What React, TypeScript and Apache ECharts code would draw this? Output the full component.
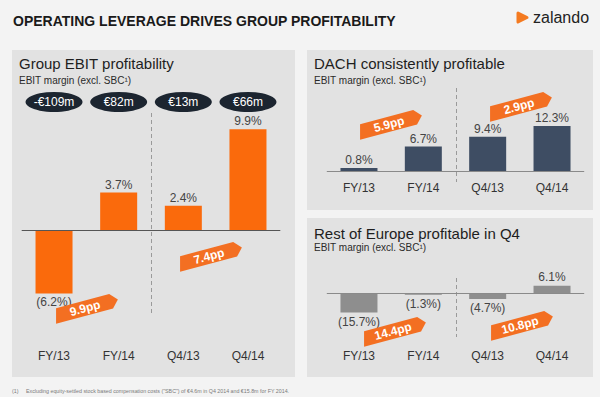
import React, { useEffect, useRef } from 'react';
import * as echarts from 'echarts';

const categories = ['FY/13', 'FY/14', 'Q4/13', 'Q4/14'];
const groupMargin = [-6.2, 3.7, 2.4, 9.9];
const groupEbit = ['-€109m', '€82m', '€13m', '€66m'];
const dachMargin = [0.8, 6.7, 9.4, 12.3];
const roeMargin = [-15.7, -1.3, -4.7, 6.1];
const groupDeltas = ['9.9pp', '7.4pp'];
const dachDeltas = ['5.9pp', '2.9pp'];
const roeDeltas = ['14.4pp', '10.8pp'];

const ORANGE = '#fa6a0c';
const NAVY = '#3e4d63';
const GREY = '#8e8e8e';
const FONT = 'Liberation Sans, Arial, sans-serif';

const grids = [
  { left: 21.7, top: 113, width: 258.6, height: 200 },
  { left: 326.8, top: 88, width: 257.4, height: 94 },
  { left: 326.8, top: 278, width: 257.4, height: 59 },
  { left: 21.7, top: 92, width: 258.6, height: 20 },
];

const fmt = (v: number) => (v < 0 ? `(${Math.abs(v).toFixed(1)}%)` : `${v.toFixed(1)}%`);

const barData = (vals: number[]) =>
  vals.map((v) => ({ value: v, label: { position: v < 0 ? 'bottom' : 'top' } }));

const xAx = (gridIndex: number, margin: number) => ({
  type: 'category',
  gridIndex,
  data: categories,
  axisLine: { show: false },
  axisTick: { show: false },
  axisLabel: { color: '#333', fontSize: 12, fontFamily: FONT, margin },
  splitLine: { show: false },
});

const yAx = (gridIndex: number, min: number, max: number) => ({
  type: 'value',
  gridIndex,
  min,
  max,
  show: false,
  splitLine: { show: false },
});

const barSeries = (idx: number, vals: number[], color: string, zeroColor: string, dist: number) => ({
  type: 'bar',
  xAxisIndex: idx,
  yAxisIndex: idx,
  barWidth: 37,
  data: barData(vals),
  itemStyle: { color },
  label: {
    show: true,
    color: '#444',
    fontSize: 12,
    fontFamily: FONT,
    distance: dist,
    formatter: (p: any) => fmt(p.value),
  },
  markLine: {
    silent: true,
    symbol: 'none',
    label: { show: false },
    lineStyle: { color: zeroColor, width: 1, type: 'solid' },
    data: [{ yAxis: 0 }],
  },
});

// dashed divider between the yearly and quarterly halves of a grid
const divider = (g: { left: number; top: number; width: number; height: number }) => {
  const x = Math.round(g.left + g.width / 2) + 0.5;
  return {
    type: 'line',
    z: 1,
    shape: { x1: x, y1: g.top, x2: x, y2: g.top + g.height },
    style: { stroke: '#9a9a9a', lineWidth: 1, lineDash: [4, 3] },
  };
};

const tag = (x: number, y: number, text: string) => ({
  type: 'group',
  x,
  y,
  rotation: 0.26,
  z: 100,
  children: [
    {
      type: 'polygon',
      shape: {
        points: [
          [-29, -7.5],
          [26, -7.5],
          [33, 0],
          [26, 7.5],
          [-33, 7.5],
        ],
      },
      style: { fill: '#f36f22' },
      z: 100,
    },
    {
      type: 'text',
      x: -1,
      y: 0,
      z: 101,
      style: {
        text,
        fill: '#fff',
        font: `bold 12px ${FONT}`,
        textAlign: 'center',
        textVerticalAlign: 'middle',
        align: 'center',
        verticalAlign: 'middle',
      },
    },
  ],
});

const txt = (x: number, y: number, text: string, size: number, color: string, weight = 'normal') => ({
  type: 'text',
  x,
  y,
  z: 5,
  style: {
    text,
    fill: color,
    font: `${weight} ${size}px ${FONT}`,
    textAlign: 'left',
    textVerticalAlign: 'middle',
    align: 'left',
    verticalAlign: 'middle',
  },
});

const panel = (x: number, y: number, w: number, h: number) => ({
  type: 'rect',
  z: -10,
  shape: { x, y, width: w, height: h },
  style: { fill: '#e2e2e2' },
});

export default function App() {
  const ref = useRef<HTMLDivElement>(null);
  useEffect(() => {
    if (!ref.current) return;
    const chart = echarts.init(ref.current, undefined, { renderer: 'svg' });
    chart.setOption({
      animation: false,
      backgroundColor: '#f3f3f3',
      grid: grids.map((g) => ({ ...g, outerBoundsMode: 'none' })),
      xAxis: [
        xAx(0, 37),
        xAx(1, 0),
        xAx(2, 13),
        { type: 'category', gridIndex: 3, data: categories, show: false },
      ],
      yAxis: [
        yAx(0, -8.1, 11.5),
        yAx(1, -3.0, 22.7),
        yAx(2, -35.5, 12.4),
        yAx(3, -1, 1),
      ],
      series: [
        barSeries(0, groupMargin, ORANGE, '#555', 2),
        barSeries(1, dachMargin, NAVY, '#8a8a8a', 2),
        barSeries(2, roeMargin, GREY, '#8a8a8a', 3),
        {
          type: 'scatter',
          xAxisIndex: 3,
          yAxisIndex: 3,
          symbol: 'circle',
          symbolSize: [57, 20],
          itemStyle: { color: '#1c2530', opacity: 1 },
          data: groupEbit.map(() => 0),
          label: {
            show: true,
            position: 'inside',
            color: '#fff',
            fontSize: 12,
            fontFamily: FONT,
            formatter: (p: any) => groupEbit[p.dataIndex],
          },
        },
      ],
      graphic: [
        panel(12, 50, 283, 327),
        panel(307, 50, 286, 160),
        panel(307, 218, 286, 159),
        divider(grids[0]),
        divider(grids[1]),
        divider(grids[2]),
        txt(13, 21, 'OPERATING LEVERAGE DRIVES GROUP PROFITABILITY', 14, '#1a1a1a', 'bold'),
        {
          type: 'polygon',
          z: 5,
          shape: { points: [[518, 13], [527, 17.5], [518, 22]] },
          style: { fill: '#f47a20', stroke: '#f47a20', lineWidth: 3, lineJoin: 'round' },
        },
        txt(533, 17, 'zalando', 16, '#222'),
        txt(19, 63, 'Group EBIT profitability', 15, '#1e1e1e'),
        txt(19, 80, 'EBIT margin (excl. SBC¹)', 10, '#2a2a2a'),
        txt(314, 63, 'DACH consistently profitable', 15, '#1e1e1e'),
        txt(314, 80, 'EBIT margin (excl. SBC¹)', 10, '#2a2a2a'),
        txt(314, 233, 'Rest of Europe profitable in Q4', 15, '#1e1e1e'),
        txt(314, 247, 'EBIT margin (excl. SBC¹)', 10, '#2a2a2a'),
        txt(12, 391, '(1)', 5.3, '#7a7a7a'),
        txt(26, 391, 'Excluding equity-settled stock based compensation costs ("SBC") of €4.6m in Q4 2014 and €15.8m for FY 2014.', 5.3, '#7a7a7a'),
        tag(86, 308, groupDeltas[0]),
        tag(210, 256, groupDeltas[1]),
        tag(390, 124, dachDeltas[0]),
        tag(520, 106, dachDeltas[1]),
        tag(394, 331, roeDeltas[0]),
        tag(521, 325, roeDeltas[1]),
      ],
    });
    return () => chart.dispose();
  }, []);
  return (
    <div
      ref={ref}
      style={{ position: 'fixed', left: 0, top: 0, width: 600, height: 397 }}
    />
  );
}
